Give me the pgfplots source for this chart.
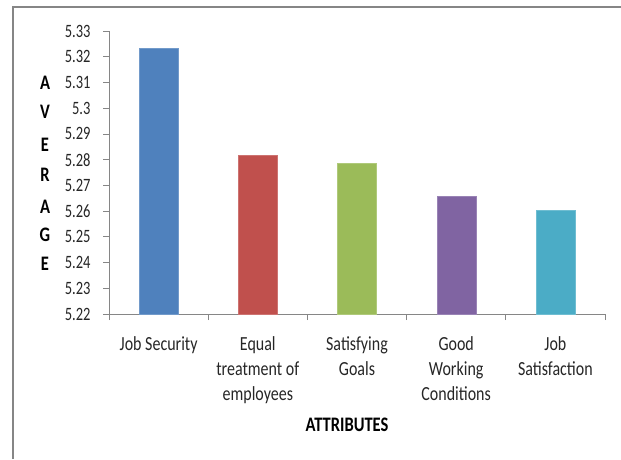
\documentclass[border=0pt]{standalone}
\usepackage{pgfplots}
\pgfplotsset{compat=1.18}
\usepackage{fontspec}
\setmainfont{Carlito}
\usepackage{graphicx}

\definecolor{c1}{HTML}{4F81BD}
\definecolor{c2}{HTML}{C0504D}
\definecolor{c3}{HTML}{9BBB59}
\definecolor{c4}{HTML}{8064A2}
\definecolor{c5}{HTML}{4BACC6}
\definecolor{axgray}{RGB}{134,134,134}

% labels in the source look stretched a little vertically
\newcommand\lab[1]{\scalebox{1}[1.25]{\begin{tabular}{@{}c@{}}#1\end{tabular}}}
\newcommand\tall[1]{\scalebox{1}[1.25]{#1}}

\begin{document}
\begin{tikzpicture}
\path[use as bounding box] (0pt,0pt) rectangle (621pt,-459pt);
% frame (only top and left edges show)
\draw[axgray, line width=2pt] (13pt,-459pt) -- (13pt,-7pt) -- (621pt,-7pt);

\begin{axis}[
  at={(109pt,-314pt)}, anchor=south west,
  scale only axis, width=496pt, height=283pt,
  xmin=0.5, xmax=5.5, ymin=5.22, ymax=5.33,
  axis lines=left, axis line style={axgray, -, line width=0.8pt},
  ybar, bar width=39pt, bar shift=0pt,
  tick align=outside, tick style={axgray, line width=0.8pt},
  xtick={1,2,3,4,5}, major x tick style={draw=none},
  minor xtick={0.5,1.5,2.5,3.5,4.5,5.5}, minor tick length=6pt,
  xticklabels={\lab{Job Security},\lab{Equal\\treatment of\\employees},\lab{Satisfying\\Goals},\lab{Good\\Working\\Conditions},\lab{Job\\Satisfaction}},
  xticklabel style={font=\fontsize{16}{20}\selectfont, text=black!85, yshift=-9pt},
  ytick={5.22,5.23,5.24,5.25,5.26,5.27,5.28,5.29,5.3,5.31,5.32,5.33},
  major tick length=6pt,
  yticklabel={\scalebox{1}[1.3]{\pgfmathprintnumber{\tick}}},
  yticklabel style={font=\fontsize{14.5}{18}\selectfont, text=black!85, xshift=-9pt,
    /pgf/number format/precision=2, /pgf/number format/assume math mode=true},
  clip=false,
]
\addplot[fill=c1, draw=c1!80!white] coordinates {(1,5.3235)};
\addplot[fill=c2, draw=c2!80!white] coordinates {(2,5.2816)};
\addplot[fill=c3, draw=c3!80!white] coordinates {(3,5.2786)};
\addplot[fill=c4, draw=c4!80!white] coordinates {(4,5.2659)};
\addplot[fill=c5, draw=c5!80!white] coordinates {(5,5.2603)};
\end{axis}

% vertical y label, one letter per line
\foreach \l/\yy in {A/83,V/112,E/145,R/175,A/207,G/235,E/264}
  \node[font=\fontsize{16.5}{20}\selectfont\bfseries] at (45pt,-\yy pt) {\tall{\l}};
\node[font=\fontsize{16.5}{20}\selectfont\bfseries] at (347pt,-425pt) {\tall{ATTRIBUTES}};
\end{tikzpicture}
\end{document}
